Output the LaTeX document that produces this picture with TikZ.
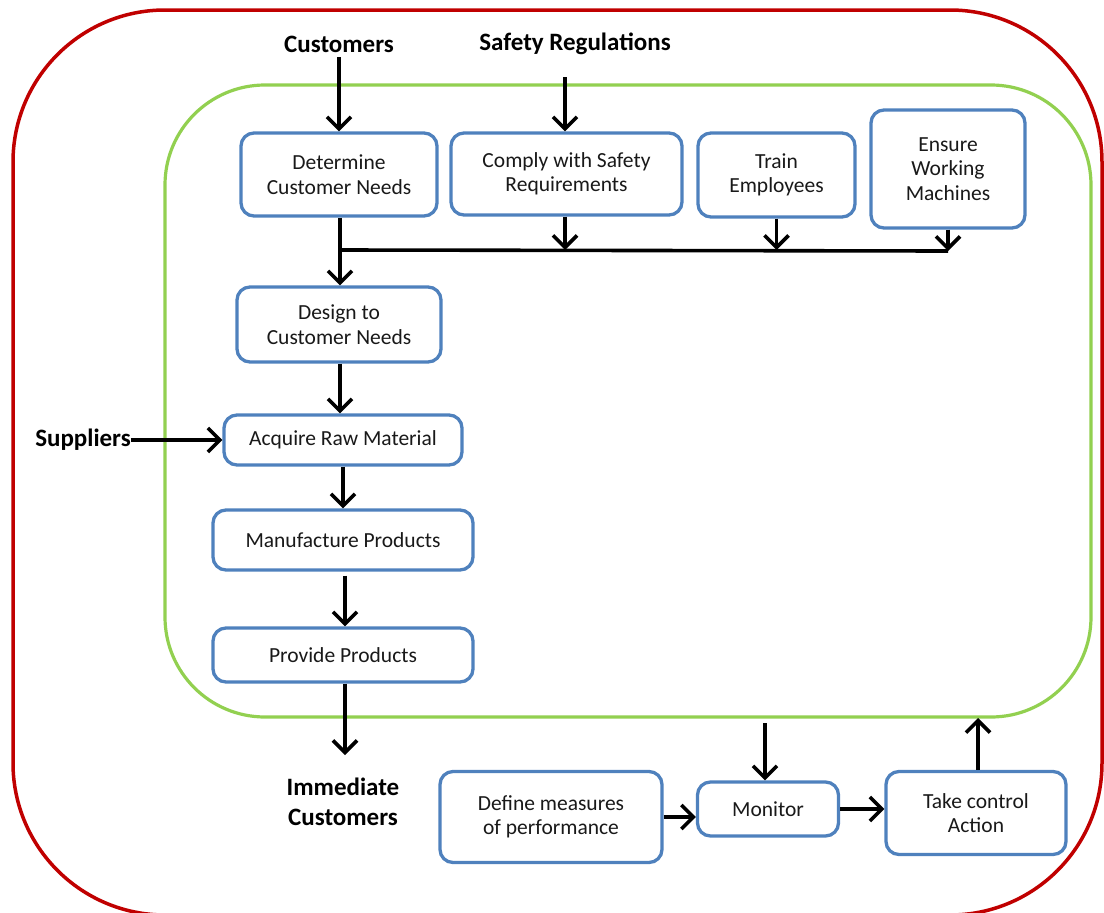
\documentclass[tikz,border=0pt]{standalone}
\usepackage{fontspec}
\setmainfont{Carlito}
\usetikzlibrary{arrows.meta}
\definecolor{boxblue}{HTML}{4F81BD}
\definecolor{orggreen}{HTML}{92D050}
\definecolor{envred}{HTML}{C00000}
\begin{document}
\begin{tikzpicture}[x=1pt,y=-1pt,
  proc/.style={draw=boxblue, line width=3.3pt, rounded corners=13pt, fill=white,
    align=center, inner sep=2pt, font=\fontsize{21.5}{24.5}\selectfont, text=black!90},
  lbl/.style={font=\fontsize{25}{30}\selectfont\bfseries, align=center, inner sep=0pt},
  flow/.style={line width=3.6pt, -{Straight Barb[length=12pt,width=24pt]}},
  busline/.style={line width=3.6pt},
]
\useasboundingbox (0,0) rectangle (1104,913);

% environment and organisation boundaries
\node (env) [draw=envred, line width=3.5pt, rounded corners=152pt,
  minimum width=1089pt, minimum height=905pt] at (557.5,462.5) {};
\node (org) [draw=orggreen, line width=3.2pt, rounded corners=100pt,
  minimum width=926pt, minimum height=632pt] at (628,401) {};

% external inputs and outputs
\node (cust)   [lbl] at (339,44) {Customers};
\node (safety) [lbl] at (575,44) {Safety Regulations};
\node (supp)   [lbl] at (83,440) {Suppliers};
\node (imm)    [lbl] at (343,802) {Immediate\\Customers};

% process steps
\node (det)     [proc, minimum width=196pt, minimum height=83pt] at (339,174.5) {Determine\\Customer Needs};
\node (comply)  [proc, minimum width=231pt, minimum height=82pt] at (566.5,174) {Comply with Safety\\Requirements};
\node (train)   [proc, minimum width=157pt, minimum height=84pt] at (776.5,175) {Train\\Employees};
\node (ensure)  [proc, minimum width=154pt, minimum height=118pt] at (948,169) {Ensure\\Working\\Machines};
\node (design)  [proc, minimum width=204pt, minimum height=75pt] at (339,324.5) {Design to\\Customer Needs};
\node (acquire) [proc, minimum width=238pt, minimum height=50pt] at (343,440) {Acquire Raw Material};
\node (manuf)   [proc, minimum width=260pt, minimum height=60pt] at (343,540) {Manufacture Products};
\node (provide) [proc, minimum width=260pt, minimum height=54pt] at (343,655) {Provide Products};

% control loop
\node (define)  [proc, minimum width=222pt, minimum height=91pt] at (551,817) {Define measures\\of performance};
\node (monitor) [proc, minimum width=141pt, minimum height=54pt] at (768,809) {Monitor};
\node (take)    [proc, minimum width=180pt, minimum height=83pt] at (976,813) {Take control\\Action};

% helper points
\coordinate (safetyin) at (565,77);
\coordinate (busL) at (340,250);
\coordinate (busR) at (948,251);
\coordinate (out) at (345,755);
\coordinate (monin) at (765,723);
\coordinate (takeout) at (978,718);

% inputs
\draw[flow, shorten <=5pt] (cust.south) -- (det.north);
\draw[flow] (safetyin) -- (safetyin |- comply.north);
\draw[flow] (supp.east) -- (supp.east -| acquire.west);

% collecting bus below the top row
\draw[busline] (busL) -- (busR);
\draw[flow] (det.south -| busL) -- (design.north -| busL);
\draw[flow] (safetyin |- comply.south) -- (safetyin |- busL);
\draw[flow] (train.south) -- (train.south |- busL);
\draw[flow] (ensure.south) -- (busR);

% main flow
\draw[flow] (design.south -| busL) -- (acquire.north -| busL);
\draw[flow] (acquire.south) -- (manuf.north);
\draw[flow, shorten <=4pt] (manuf.south -| out) -- (provide.north -| out);
\draw[flow] (provide.south -| out) -- (out);

% control loop connectors
\draw[flow] (monin) -- (monin |- monitor.north);
\draw[flow] (define.east) -- (define.east -| monitor.west);
\draw[flow] (monitor.east) -- (monitor.east -| take.west);
\draw[flow] (takeout |- take.north) -- (takeout);
\end{tikzpicture}
\end{document}
